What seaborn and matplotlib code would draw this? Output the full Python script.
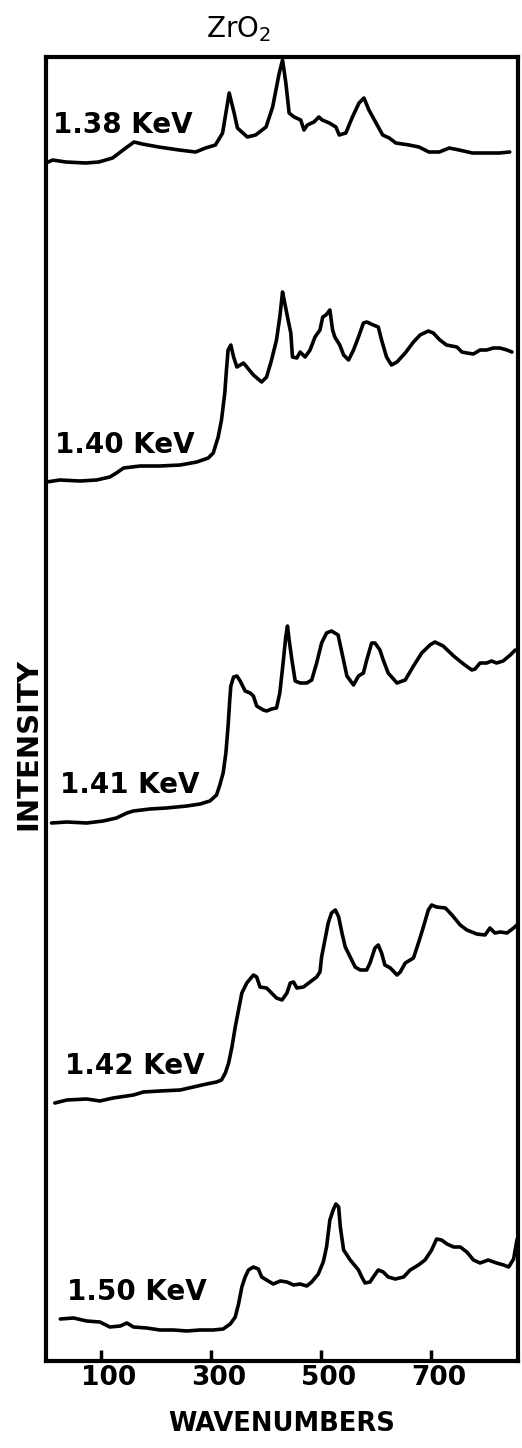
import numpy as np
import pandas as pd
import seaborn as sns
import matplotlib.pyplot as plt
from matplotlib.transforms import ScaledTranslation

# spectra: wavenumber (cm-1) and intensity above each trace's own baseline
w_138 = [0, 12, 36, 72, 96, 121, 145, 160, 175, 205, 242, 272, 290, 308, 321, 333, 342, 348,
         366, 381, 400, 412, 424, 430, 436, 442, 451, 463, 469, 475, 487, 496, 502, 515, 527,
         533, 545, 557, 569, 578, 587, 600, 612, 624, 636, 660, 678, 696, 715, 733, 751, 775,
         800, 824, 843]
i_138 = [-1, 2, 0, -1, 0, 4, 14, 20, 18, 15, 12, 10, 14, 17, 29, 69, 49, 34,
         25, 27, 35, 55, 89, 102, 79, 49, 45, 42, 32, 37, 40, 45, 42, 39, 35,
         27, 29, 45, 59, 64, 52, 39, 27, 24, 19, 17, 15, 10, 10, 14, 12, 9,
         9, 9, 10]

w_140 = [1, 25, 62, 92, 116, 128, 141, 171, 207, 244, 274, 295, 304, 313, 319, 325, 328, 331,
         336, 341, 347, 359, 377, 392, 401, 410, 419, 425, 430, 434, 439, 445, 448, 456, 462,
         471, 480, 489, 498, 503, 509, 516, 521, 525, 534, 541, 550, 559, 568, 577, 583, 595,
         604, 610, 619, 628, 638, 653, 668, 680, 695, 704, 716, 728, 747, 756, 765, 777, 789,
         801, 813, 825, 838, 847]
i_140 = [0, 2, 1, 2, 5, 9, 14, 16, 16, 17, 20, 24, 29, 45, 62, 89, 112, 132,
         137, 125, 115, 119, 107, 100, 105, 122, 142, 165, 190, 179, 165, 149, 125, 124, 130,
         125, 132, 145, 152, 165, 167, 172, 152, 145, 137, 127, 122, 132, 145, 159, 160, 157,
         155, 142, 125, 117, 120, 129, 140, 147, 151, 149, 142, 137, 135, 130, 129, 128, 132,
         132, 134, 134, 132, 130]

w_141 = [10, 38, 74, 104, 128, 147, 159, 189, 219, 256, 280, 298, 310, 316, 322, 327, 331, 334,
         336, 341, 347, 353, 362, 371, 377, 383, 395, 401, 410, 419, 425, 431, 436, 439, 442,
         447, 453, 462, 474, 483, 492, 501, 510, 519, 531, 538, 547, 559, 568, 577, 583, 592,
         598, 607, 613, 622, 638, 653, 668, 683, 698, 707, 722, 741, 759, 774, 780, 789, 801,
         810, 819, 831, 844, 853]
i_141 = [0, 1, 0, 2, 5, 10, 12, 14, 15, 17, 19, 22, 28, 38, 50, 70, 97, 123,
         137, 146, 147, 142, 132, 130, 127, 117, 113, 112, 114, 115, 130, 160, 187, 197, 183,
         163, 142, 140, 140, 143, 160, 180, 190, 192, 188, 170, 147, 138, 147, 150, 163, 180,
         180, 173, 163, 150, 140, 143, 157, 170, 178, 181, 177, 167, 159, 153, 154, 160, 160,
         162, 160, 162, 168, 173]

w_142 = [16, 38, 74, 98, 122, 159, 177, 207, 244, 268, 292, 310, 319, 326, 332, 338, 344, 350,
         356, 365, 377, 383, 389, 401, 410, 419, 429, 438, 444, 450, 456, 468, 480, 492, 498,
         501, 507, 513, 519, 526, 532, 538, 544, 553, 562, 571, 583, 589, 598, 604, 610, 616,
         626, 638, 644, 653, 668, 677, 686, 695, 701, 710, 726, 738, 753, 765, 783, 798, 807,
         816, 826, 838, 850, 862]
i_142 = [0, 3, 4, 2, 5, 8, 11, 12, 13, 16, 19, 21, 23, 30, 40, 56, 76, 93,
         110, 120, 128, 126, 116, 115, 110, 105, 103, 110, 120, 121, 115, 116, 121, 126, 131,
         146, 163, 180, 190, 193, 186, 170, 156, 146, 136, 133, 133, 140, 155, 158, 150, 138,
         135, 128, 131, 140, 145, 160, 176, 193, 198, 196, 195, 188, 178, 173, 169, 168, 175,
         170, 171, 170, 175, 181]

w_150 = [26, 50, 74, 98, 116, 135, 147, 159, 183, 207, 232, 256, 280, 304, 322, 335, 344, 350,
         356, 362, 368, 377, 386, 392, 401, 413, 426, 438, 450, 462, 474, 483, 495, 504, 510,
         516, 522, 527, 532, 535, 541, 553, 568, 574, 580, 589, 595, 604, 613, 622, 635, 650,
         662, 677, 689, 701, 710, 719, 729, 741, 753, 765, 777, 789, 804, 819, 832, 841, 850,
         856, 862]
i_150 = [0, 1, -2, -3, -8, -7, -4, -8, -9, -11, -11, -12, -11, -11, -10, -5, 2, 15,
         32, 42, 49, 52, 50, 42, 39, 35, 38, 37, 34, 35, 33, 37, 45, 57, 72,
         99, 109, 115, 112, 92, 69, 59, 49, 42, 36, 37, 42, 49, 47, 42, 40, 42,
         49, 54, 59, 69, 80, 79, 75, 72, 72, 67, 59, 56, 59, 56, 54, 52, 60,
         79, 87]

energies = ["1.38 KeV", "1.40 KeV", "1.41 KeV", "1.42 KeV", "1.50 KeV"]
baselines = [1199, 879, 538, 258, 42]
label_x = [12, 16, 25, 34, 38]
label_dy = [37, 37, 38, 37, 27]
xticks = [100, 300, 500, 700]

spectra = [(w_138, i_138), (w_140, i_140), (w_141, i_141), (w_142, i_142), (w_150, i_150)]
frames = []
for name, base, (w, i) in zip(energies, baselines, spectra):
    frames.append(pd.DataFrame({"wavenumber": w,
                                "intensity": np.array(i) + base,
                                "energy": name}))
df = pd.concat(frames, ignore_index=True)

sns.set_style("white")
plt.rcParams["font.family"] = ["DejaVu Sans"]
plt.rcParams["text.color"] = "black"
plt.rcParams["axes.labelcolor"] = "black"
plt.rcParams["xtick.color"] = "black"
plt.rcParams["xtick.labelcolor"] = "black"

fig = plt.figure(figsize=(5.22, 14.48), dpi=100)
ax = fig.add_axes([46 / 522, 87 / 1448, 472 / 522, 1304 / 1448])

sns.lineplot(data=df, x="wavenumber", y="intensity", units="energy", estimator=None,
             sort=False, color="black", linewidth=2.6, ax=ax)

for name, base, lx, dy in zip(energies, baselines, label_x, label_dy):
    ax.text(lx, base + dy, name, fontsize=20, fontweight="bold",
            ha="left", va="center", color="black")

ax.set_xlim(0, 858)
ax.set_ylim(0, 1304)
ax.set_xticks(xticks)
ax.set_xticklabels([str(t) for t in xticks], fontsize=19, fontweight="bold",
                   color="black")
ax.set_yticks([])
ax.tick_params(axis="x", direction="in", length=8, width=2.5, pad=3, color="black",
               bottom=True)
shift = ScaledTranslation(8 / 100, 0, fig.dpi_scale_trans)
for lab in ax.get_xticklabels():
    lab.set_transform(lab.get_transform() + shift)

for sp in ax.spines.values():
    sp.set_visible(True)
    sp.set_color("black")
    sp.set_linewidth(3)

ax.set_xlabel("WAVENUMBERS", fontsize=18.5, fontweight="bold", labelpad=14, color="black")
ax.set_ylabel("INTENSITY", fontsize=21, fontweight="bold", color="black")
ax.yaxis.set_label_coords(-0.008, 0.473)
ax.text(0.407, 1.01, "ZrO$_2$", transform=ax.transAxes, fontsize=20,
        ha="center", va="bottom", color="black")

fig.savefig("out.png", dpi=100, facecolor="white")
